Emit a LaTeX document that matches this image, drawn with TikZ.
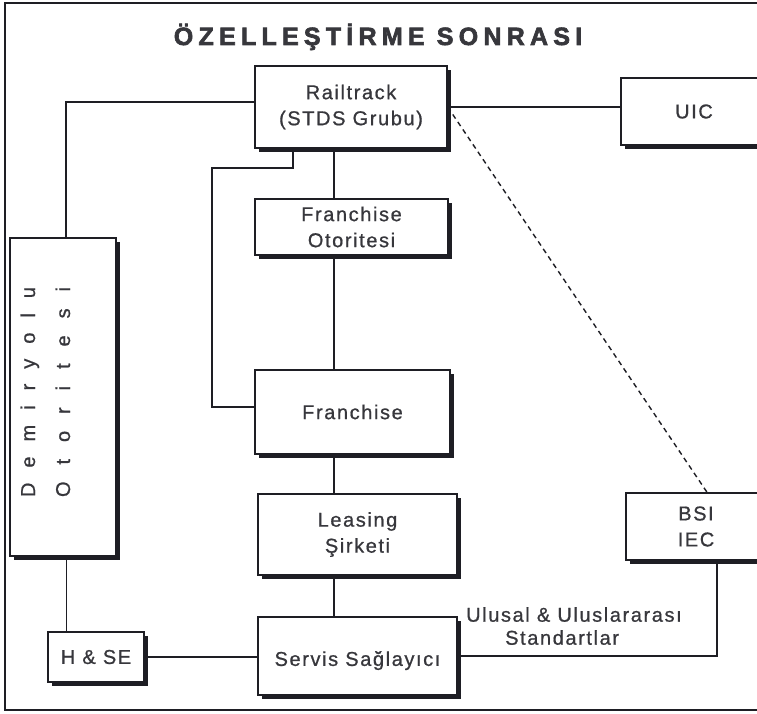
\documentclass[tikz,border=0pt]{standalone}
\usepackage{fontspec}
\setmainfont{Liberation Sans}[FakeBold=0.8]
\newfontfamily\boxfont[LetterSpace=8, FakeBold=0.8]{Liberation Sans}
\newfontfamily\titlefont[LetterSpace=21, FakeBold=2.5]{Liberation Sans Bold}
\usepackage{tikz}
\usetikzlibrary{shadows, calc}
\definecolor{ink}{RGB}{30,30,36}
\definecolor{txt}{RGB}{55,55,60}

\begin{document}
\begin{tikzpicture}[x=1pt, y=-1pt,
  b/.style={draw=ink, line width=1.5pt, fill=white, align=center,
    inner sep=0pt, text=txt, font=\boxfont\fontsize{20pt}{26pt}\selectfont,
    drop shadow={shadow xshift=4pt, shadow yshift=-4pt, fill=ink, opacity=1}},
  c/.style={draw=ink, line width=1.8pt}]
  \useasboundingbox (0,0) rectangle (757,714);
  \clip (0,0) rectangle (757,714);
  \draw[ink, line width=2.8pt] (5,3) rectangle (800,710);

  \node[font=\titlefont\fontsize{25pt}{30pt}\selectfont,
    text=txt, anchor=base] (title) at (378,45) {ÖZELLEŞTİRME SONRASI};

  \node[b, minimum width=192pt, minimum height=82pt] (rail) at (351,107)
    {Railtrack\\(STDS Grubu)};
  \node[b, minimum width=146pt, minimum height=67pt] (uic) at (694,111.5) {UIC};
  \node[b, minimum width=193pt, minimum height=56pt] (fa) at (351.5,227)
    {Franchise\\Otoritesi};
  \node[b, minimum width=195pt, minimum height=84pt] (fr) at (352.5,412) {Franchise};
  \node[b, minimum width=199pt, minimum height=81pt] (ls) at (357.5,534.5)
    {Leasing\\Şirketi};
  \node[b, minimum width=199pt, minimum height=78pt, text depth=0pt] (sv) at (357.5,656)
    {\raisebox{-5pt}{Servis Sağlayıcı}};
  \node[b, minimum width=140pt, minimum height=67pt] (bsi) at (696,526.5)
    {BSI\\IEC};
  \node[b, minimum width=106pt, minimum height=318pt] (dr) at (63,397) {};
  \node[b, minimum width=96pt, minimum height=50pt] (hse) at (96,657) {H \& SE};

  \node[rotate=90, anchor=base, text=txt, font=\fontsize{20pt}{24pt}\selectfont]
    (drA) at (35,392) {\hbox to 210pt{D\hfil e\hfil m\hfil i\hfil r\hfil y\hfil o\hfil l\hfil u}};
  \node[rotate=90, anchor=base, text=txt, font=\fontsize{20pt}{24pt}\selectfont]
    (drB) at (70,392) {\hbox to 210pt{O\hfil t\hfil o\hfil r\hfil i\hfil t\hfil e\hfil s\hfil i}};

  \node[anchor=north west, inner sep=0pt, align=left, text=txt,
    font=\boxfont\fontsize{20pt}{23pt}\selectfont] (std) at (466,607)
    {Ulusal \& Uluslararası\\\hspace*{39pt}Standartlar};

  \coordinate (spine) at (334,0);
  \coordinate (loop) at (212,168);
  \draw[c] (spine |- rail.south) -- (spine |- fa.north);
  \draw[c] (spine |- fa.south) -- (spine |- fr.north);
  \draw[c] (spine |- fr.south) -- (spine |- ls.north);
  \draw[c] (spine |- ls.south) -- (spine |- sv.north);
  \draw[c] ([yshift=5pt]rail.west) -| ([xshift=3pt]dr.north);
  \draw[c] ([xshift=-58pt]rail.south) |- (loop) |- ([yshift=5pt]fr.west);
  \draw[c] (rail.east) -- (rail.east -| uic.west);
  \draw[c, line width=1.4pt, dash pattern=on 5pt off 4pt] (rail.east) -- ([xshift=11pt]bsi.north);
  \draw[c] ([xshift=3.5pt]dr.south) -- ([xshift=3.5pt]dr.south |- hse.north);
  \draw[c] (hse.east) -- (hse.east -| sv.west);
  \draw[c] (sv.east) -| ([xshift=21pt]bsi.south);
\end{tikzpicture}
\end{document}
